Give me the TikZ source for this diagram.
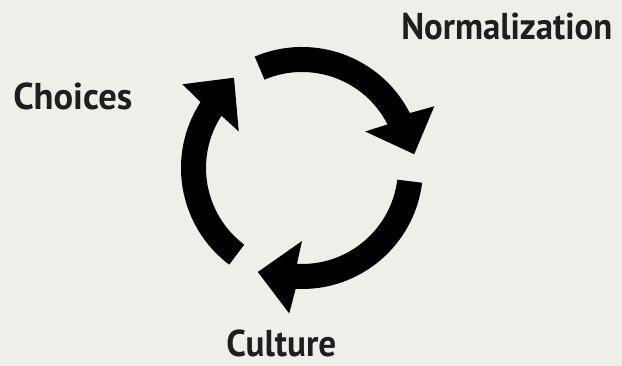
\documentclass[tikz,border=0pt]{standalone}
\usepackage{fontspec}
\setmainfont{PT Sans}
\usepackage{graphicx}
\definecolor{bg}{HTML}{EFEFEA}
\definecolor{ink}{HTML}{1E1E1E}
\tikzset{
  lbl/.style={anchor=base west, inner sep=0pt, text=ink, font=\fontsize{28}{32}\selectfont\bfseries},
  cyclearrow/.style={fill=black}
}
\begin{document}
\begin{tikzpicture}[x=0.75pt,y=0.75pt]
\fill[bg] (0,0) rectangle (622,366);
\useasboundingbox (0,0) rectangle (622,366);
\coordinate (c) at (302,198);
\foreach \k in {0,1,2}{
  \begin{scope}[shift={(c)}, rotate=-120*\k]
    \fill[cyclearrow] (113:121) arc[start angle=113,end angle=27,radius=121]
      -- (25:146) -- (7:113) -- (30:73) -- (27:96)
      arc[start angle=27,end angle=113,radius=96] -- cycle;
  \end{scope}
}
\node[lbl] (norm) at (401,326) {\resizebox{158.25pt}{\height}{Normalization}};
\node[lbl] (choices) at (13,256) {\resizebox{89.25pt}{\height}{Choices}};
\node[lbl] (culture) at (226,9) {\resizebox{82.5pt}{\height}{Culture}};
\end{tikzpicture}
\end{document}
